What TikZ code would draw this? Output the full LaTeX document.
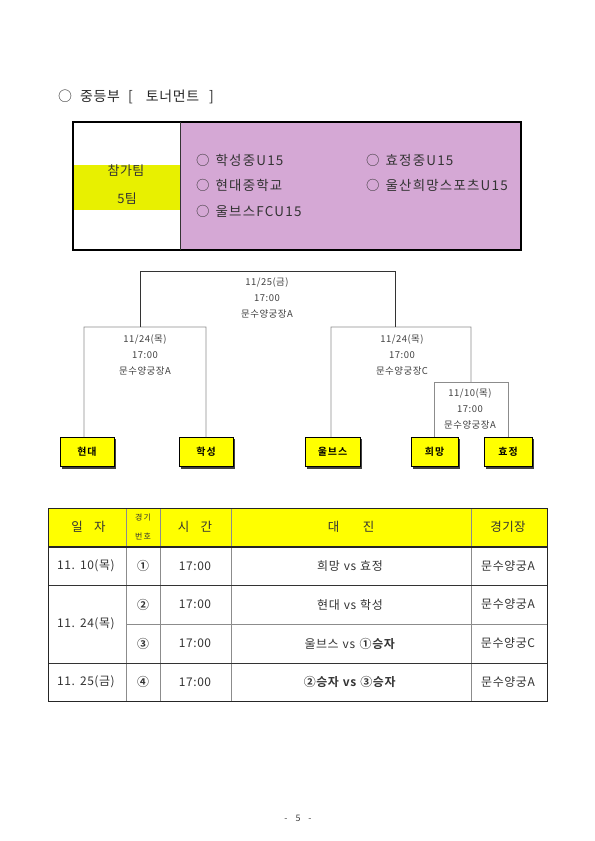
\documentclass[tikz,border=0pt]{standalone}
\usepackage{fontspec}
\setmainfont{Noto Sans CJK KR}[BoldFont={Noto Sans CJK KR Bold}]
\definecolor{lavender}{HTML}{D5A8D5}
\definecolor{limey}{HTML}{E8F000}
\definecolor{pureyellow}{HTML}{FFFF00}
\definecolor{linegray}{HTML}{8C8C8C}
\tikzset{
  team/.style={draw=black, line width=0.8bp, fill=pureyellow, minimum width=52bp, minimum height=29bp, inner sep=0pt, font=\fontsize{10}{11}\selectfont\bfseries\addfontfeature{LetterSpace=10}},
  shadow/.style={fill=black!75},
  mainline/.style={draw=black!80, line width=0.7bp},
  subline/.style={draw=linegray, line width=0.7bp},
  lbl/.style={font=\fontsize{9.5}{16}\selectfont\addfontfeature{LetterSpace=5}, text=black!75, align=center, inner sep=0pt},
  listitem/.style={anchor=west, font=\fontsize{13.5}{14}\selectfont\addfontfeature{LetterSpace=9}, text=black!80, inner sep=0pt},
  cell/.style={font=\fontsize{12}{13}\selectfont\addfontfeature{LetterSpace=5}, text=black!80, inner sep=0pt},
  hcell/.style={font=\fontsize{12.5}{14}\selectfont\addfontfeature{LetterSpace=4}, text=black!80, inner sep=0pt},
}
\begin{document}
\begin{tikzpicture}[x=1bp,y=-1bp]
\useasboundingbox (0,0) rectangle (595,841);

% title
\node[anchor=west, font=\fontsize{14}{15}\selectfont\addfontfeature{LetterSpace=5}, text=black!85, inner sep=0pt] (title) at (58,97) {○\hspace{8bp}중등부\hspace{8bp}[\hspace{13bp}토너먼트\hspace{10bp}]};

% participants box
\fill[white] (73,122) rectangle (180,250);
\fill[limey] (74,165) rectangle (180,210);
\fill[lavender] (180,122) rectangle (521,250);
\draw[black, line width=1.3bp] (73,122) rectangle (521,250);
\draw[black!80, line width=0.8bp] (180,122) -- (180,250);
\node[cell, font=\fontsize{13}{14}\selectfont\addfontfeature{LetterSpace=3}] (tag1) at (126,171) {참가팀};
\node[cell, font=\fontsize{13}{14}\selectfont\addfontfeature{LetterSpace=3}] (tag2) at (127,199) {5팀};
\node[listitem] (p1) at (196,160) {○\hspace{6bp}학성중U15};
\node[listitem] (p2) at (196,185) {○\hspace{6bp}현대중학교};
\node[listitem] (p3) at (196,211) {○\hspace{6bp}울브스FCU15};
\node[listitem] (p4) at (366,160) {○\hspace{6bp}효정중U15};
\node[listitem] (p5) at (366,185) {○\hspace{6bp}울산희망스포츠U15};

% bracket team boxes (with shadows)
\foreach \cx/\w in {87/54, 206/54, 332.5/55, 434.5/47, 508/48} {
  \fill[shadow] (\cx-\w/2+1.8,437+1.8) rectangle (\cx+\w/2+1.8,467+1.8);
}
\node[team, minimum width=54bp] (hd) at (87,452) {현대};
\node[team, minimum width=54bp] (hs) at (206,452) {학성};
\node[team, minimum width=55bp] (wb) at (332.5,452) {울브스};
\node[team, minimum width=47bp] (hm) at (434.5,452) {희망};
\node[team, minimum width=48bp] (hj) at (508,452) {효정};

% bracket lines
\coordinate (qL) at (84,327);
\coordinate (qR) at (206,327);
\coordinate (sL) at (331,327);
\coordinate (sR) at (471,327);
\coordinate (tL) at (434,382);
\coordinate (tR) at (508,382);
\coordinate (fL) at (140,271);
\coordinate (fR) at (395,271);
\draw[subline] ([xshift=-3bp]hd.north) -- (qL) -- (qR) -- (hs.north);
\draw[subline] ([xshift=-1.5bp]wb.north) -- (sL) -- (sR) -- (471,382);
\draw[subline] ([xshift=-0.5bp]hm.north) -- (tL) -- (tR) -- (hj.north);
\draw[mainline] (140,327) -- (fL) -- (fR) -- (395,327);

% bracket labels
\node[lbl] (m4) at (267,298) {11/25(금)\\17:00\\문수양궁장A};
\node[lbl] (m2) at (145,355) {11/24(목)\\17:00\\문수양궁장A};
\node[lbl] (m3) at (402,355) {11/24(목)\\17:00\\문수양궁장C};
\node[lbl] (m1) at (470,409) {11/10(목)\\17:00\\문수양궁장A};

% schedule table
\fill[pureyellow] (48,508) rectangle (547,547);
\draw[linegray, line width=0.6bp] (126,508) -- (126,701);
\draw[linegray, line width=0.6bp] (160,508) -- (160,701);
\draw[linegray, line width=0.6bp] (231,508) -- (231,701);
\draw[linegray, line width=0.6bp] (471,508) -- (471,701);
\draw[black!80, line width=0.6bp] (48,585) -- (547,585);
\draw[linegray, line width=0.6bp] (126,624) -- (547,624);
\draw[black!80, line width=0.6bp] (48,663) -- (547,663);
\draw[black!85, line width=1.6bp] (48,547) -- (547,547);
\draw[black!85, line width=1bp] (48,508) rectangle (547,701);

\node[hcell] (h1) at (88.5,527) {일\hspace{11.5bp}자};
\node[cell, font=\fontsize{8}{19}\selectfont\addfontfeature{LetterSpace=15}, align=center] (h2) at (143,527) {경기\\번호};
\node[hcell] (h3) at (195,527) {시\hspace{11.5bp}간};
\node[hcell] (h4) at (351,527) {대\hspace{23.5bp}진};
\node[hcell] (h5) at (508,527) {경기장};

\node[cell] (d1) at (86,566) {11.\hspace{5bp}10(목)};
\node[cell] (d2) at (86,624) {11.\hspace{5bp}24(목)};
\node[cell] (d4) at (86,682) {11.\hspace{5bp}25(금)};

\node[cell, font=\fontsize{12}{13}\selectfont\bfseries] (n1) at (143,566) {①};
\node[cell, font=\fontsize{12}{13}\selectfont\bfseries] (n2) at (143,604.5) {②};
\node[cell, font=\fontsize{12}{13}\selectfont\bfseries] (n3) at (143,643.5) {③};
\node[cell, font=\fontsize{12}{13}\selectfont\bfseries] (n4) at (143,682) {④};

\node[cell] (t1) at (195,566) {17:00};
\node[cell] (t2) at (195,604.5) {17:00};
\node[cell] (t3) at (195,643.5) {17:00};
\node[cell] (t4) at (195,682) {17:00};

\node[cell] (v1) at (350,566) {희망\hspace{4bp}vs\hspace{4bp}효정};
\node[cell] (v2) at (350,604.5) {현대\hspace{4bp}vs\hspace{4bp}학성};
\node[cell] (v3) at (350,643.5) {울브스\hspace{4bp}vs\hspace{4bp}\textbf{①승자}};
\node[cell] (v4) at (350,682) {\textbf{②승자\hspace{4bp}vs\hspace{4bp}③승자}};

\node[cell] (s1) at (508,566) {문수양궁A};
\node[cell] (s2) at (508,604.5) {문수양궁A};
\node[cell] (s3) at (508,643.5) {문수양궁C};
\node[cell] (s4) at (508,682) {문수양궁A};

% page number
\node[font=\fontsize{9}{10}\selectfont, text=black!75, inner sep=0pt] (pg) at (298,818) {-\hspace{8bp}5\hspace{8bp}-};
\end{tikzpicture}
\end{document}
